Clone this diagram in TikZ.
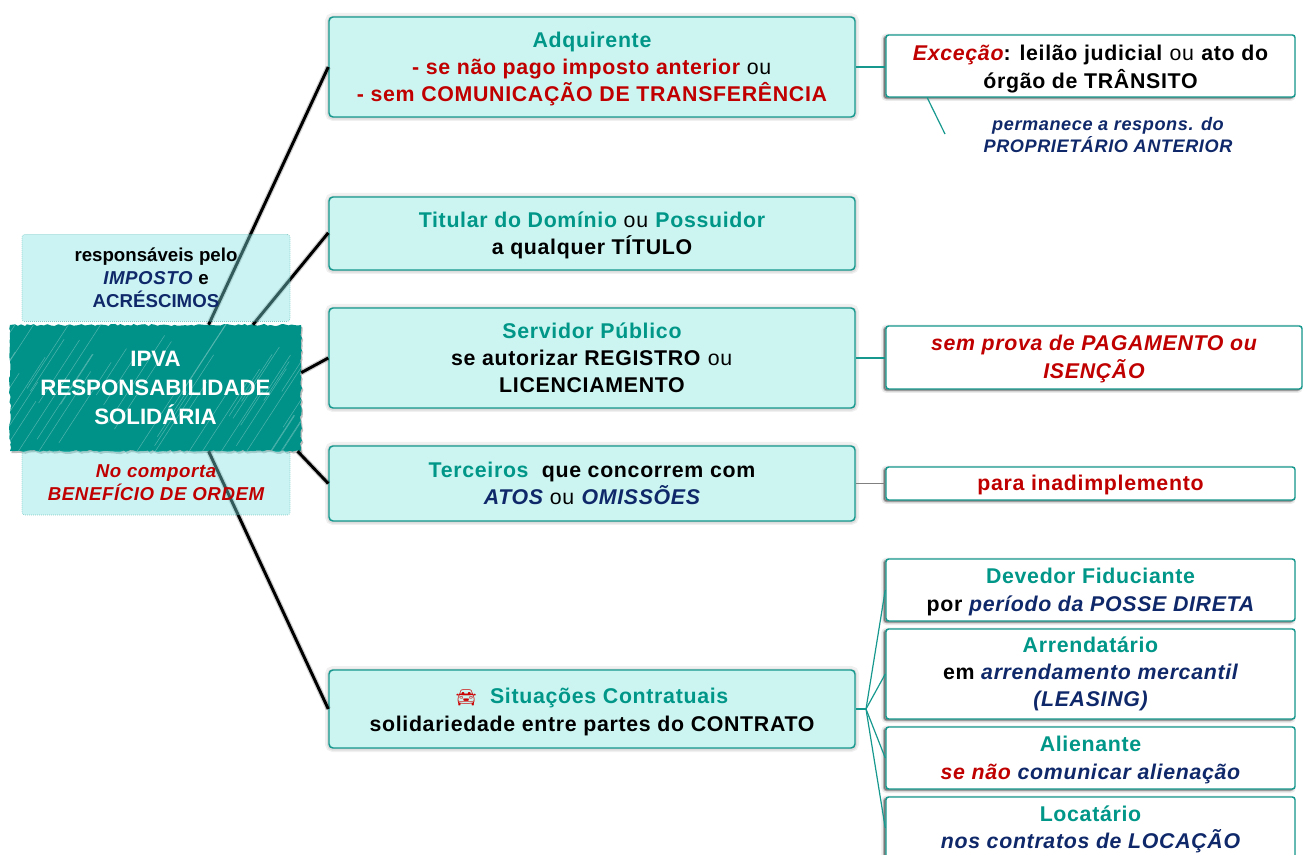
\documentclass[tikz,border=0pt]{standalone}
\usepackage{fontspec}
\setmainfont{Liberation Sans}[LetterSpace=3.2]
\newfontfamily\emojifont{Noto Emoji}
\usetikzlibrary{shadows,decorations.pathmorphing}
\definecolor{tealdark}{RGB}{0,146,136}
\definecolor{tealline}{RGB}{22,152,142}
\definecolor{tealtitle}{RGB}{0,150,136}
\definecolor{cyanfill}{RGB}{204,245,241}
\definecolor{cyanglass}{RGB}{125,225,225}
\definecolor{navytext}{RGB}{15,40,105}
\definecolor{redtext}{RGB}{192,0,0}
\newcommand{\ttl}[1]{\textcolor{tealtitle}{#1}}
\newcommand{\nvy}[1]{\textcolor{navytext}{\itshape #1}}
\newcommand{\rdt}[1]{\textcolor{redtext}{#1}}
\newcommand{\ou}{\textmd{ou}}
\newcommand{\tight}[1]{{\addfontfeatures{LetterSpace=0}#1}}
\newcommand{\lowr}[1]{\rule{0pt}{#1pt}}

\begin{document}
\begin{tikzpicture}[x=0.75pt,y=0.75pt,yscale=-1,xscale=1,
  softshadow/.style={general shadow={fill=black,draw=black,opacity=.06,line width=6pt},
    general shadow={fill=black,draw=black,opacity=.08,line width=3pt,shadow yshift=-.5pt}},
  sideshadow/.style={general shadow={fill=black,draw=black,opacity=.08,line width=4pt,shadow xshift=-1.5pt,shadow yshift=-1pt},
    general shadow={fill=black,draw=black,opacity=.25,line width=1.5pt,shadow xshift=-1.5pt,shadow yshift=-1pt}},
  bodytext/.style={font=\fontsize{16}{20.2}\selectfont\bfseries,align=center,inner sep=0pt},
  bigbox/.style={bodytext,rounded corners=3pt,draw=tealline,line width=1.1pt,fill=cyanfill,softshadow,minimum width=394.5pt},
  sidebox/.style={bodytext,rounded corners=2pt,draw=tealline,line width=1.1pt,fill=white,sideshadow,minimum width=306.75pt},
  notebox/.style={bodytext,font=\fontsize{14}{17.4}\selectfont\bfseries,rounded corners=2pt,draw=tealline,draw opacity=.5,densely dotted,line width=.5pt,fill=cyanglass,fill opacity=.4,text opacity=1,minimum width=201pt},
  spoke/.style={line width=2.2pt,black,preaction={draw=black,opacity=.18,line width=4pt}},
  twig/.style={line width=.9pt,tealline},
]
\useasboundingbox (0,0) rectangle (1304,855);

% Main boxes
\node [bigbox,minimum height=75pt] (adquirente) at (592,67) {\lowr{15}\ttl{Adquirente}\\\rdt{- se não pago imposto anterior} \ou\\\rdt{- sem COMUNICAÇÃO DE TRANSFERÊNCIA}};
\node [bigbox,minimum height=54.75pt] (titular) at (592,233.5) {\lowr{14.6}\ttl{Titular do Domínio} \ou{} \ttl{Possuidor}\\a qualquer TÍTULO};
\node [bigbox,minimum height=75pt] (servidor) at (592,358) {\ttl{Servidor Público}\\se autorizar REGISTRO \ou\\LICENCIAMENTO};
\node [bigbox,minimum height=56.25pt] (terceiros) at (592,483.5) {\ttl{Terceiros}\ \ que concorrem com\\\nvy{ATOS} \ou{} \nvy{OMISSÕES}};
\node [bigbox,minimum height=58.5pt] (situacoes) at (592,709) {\lowr{16}{\emojifont\fontsize{12.5}{12.5}\selectfont\textcolor{red!80!black}{🚘}}\ \ \ttl{Situações Contratuais}\\[1pt]solidariedade entre partes do CONTRATO};

% Side boxes
\node [sidebox,minimum height=46.5pt] (excecao) at (1090.5,66) {\lowr{16}\rdt{\itshape Exceção}: leilão judicial \ou{} ato do\\[.8pt]órgão de TRÂNSITO};
\node [sidebox,minimum width=312pt,minimum height=47.25pt] (semprova) at (1094,357.5) {\lowr{14.5}\rdt{\itshape sem prova de PAGAMENTO ou}\\[.8pt]\rdt{\itshape ISENÇÃO}};
\node [sidebox,minimum height=24.75pt] (inadimpl) at (1090.5,483.5) {\lowr{14.5}\rdt{para inadimplemento}};
\node [sidebox,minimum height=46.5pt] (devedor) at (1090.5,590) {\lowr{14.5}\ttl{Devedor Fiduciante}\\[.5pt]por \nvy{período da POSSE DIRETA}};
\node [sidebox,minimum height=67.5pt] (arrendat) at (1090.5,674) {\ttl{Arrendatário}\\em \nvy{arrendamento mercantil}\\\nvy{(LEASING)}};
\node [sidebox,minimum height=46.5pt] (alienante) at (1090.5,758) {\lowr{14.5}\ttl{Alienante}\\[.5pt]\rdt{\itshape se não} \nvy{comunicar alienação}};
\node [sidebox,minimum height=46.5pt] (locatario) at (1090.5,828) {\lowr{13.5}\ttl{Locatário}\\\nvy{nos contratos de LOCAÇÃO}};

% Text Node
\node [bodytext,font=\fontsize{13.6}{16.6}\selectfont\bfseries\itshape,text=navytext] (permanece) at (1108,135) {permanece a respons. do\\PROPRIETÁRIO ANTERIOR};

% Central box
\node [bodytext,font=\fontsize{16.7}{21.5}\selectfont\bfseries\addfontfeatures{LetterSpace=0},text=white,fill=tealdark,minimum width=218.25pt,minimum height=94.5pt,
  general shadow={fill=black,opacity=.25,shadow xshift=1pt,shadow yshift=-1.5pt},
  decorate,decoration={random steps,segment length=2.5pt,amplitude=.8pt},
  path picture={\pgfmathsetseed{17}
    \foreach \i in {1,...,55}{
      \pgfmathsetmacro{\hx}{rnd*300-190}
      \pgfmathsetmacro{\hy}{rnd*70-20}
      \pgfmathsetmacro{\hl}{rnd*60+30}
      \draw [white,opacity=.3,line width=.4pt] ([shift={(\hx pt,\hy pt)}]path picture bounding box.south) -- ++(57:\hl pt);
    }}] (central) at (155.5,388) {IPVA\\RESPONSABILIDADE\\SOLIDÁRIA};

% Connectors
\coordinate (excecaofoot) at (945,134);
\coordinate (fan) at (866,709);
\draw [spoke] (central.50.7) -- (adquirente.west);
\draw [spoke] (central.33.1) -- ([yshift=-0.5pt]titular.west);
\draw [spoke] (central.6.7) -- (servidor.west);
\draw [spoke] (central.-24.5) -- (terceiros.west);
\draw [spoke] (central.-50.7) -- (situacoes.west);
\draw [twig] (adquirente.east) -- (adquirente.east -| excecao.west);
\draw [twig] (excecao.-169.3) -- (excecaofoot);
\draw [twig] (servidor.east) -- (servidor.east -| semprova.west);
\draw [line width=.7pt,gray] (terceiros.east) -- (inadimpl.west);
\draw [twig] (situacoes.east) -- (fan);
\draw [twig] (fan) -- (devedor.west);
\draw [twig] (fan) -- (arrendat.west);
\draw [twig] (fan) -- (alienante.west);
\draw [twig] (fan) -- (locatario.west);

% Glass boxes over the connectors
\node [notebox,minimum height=65.25pt] (responsaveis) at (156,278) {\tight{responsáveis pelo}\\\nvy{IMPOSTO} e\\\textcolor{navytext}{\tight{ACRÉSCIMOS}}};
\node [notebox,minimum height=48pt] (comporta) at (156,483) {\rdt{\itshape No comporta}\\\rdt{\itshape BENEFÍCIO DE ORDEM}};

\end{tikzpicture}
\end{document}
